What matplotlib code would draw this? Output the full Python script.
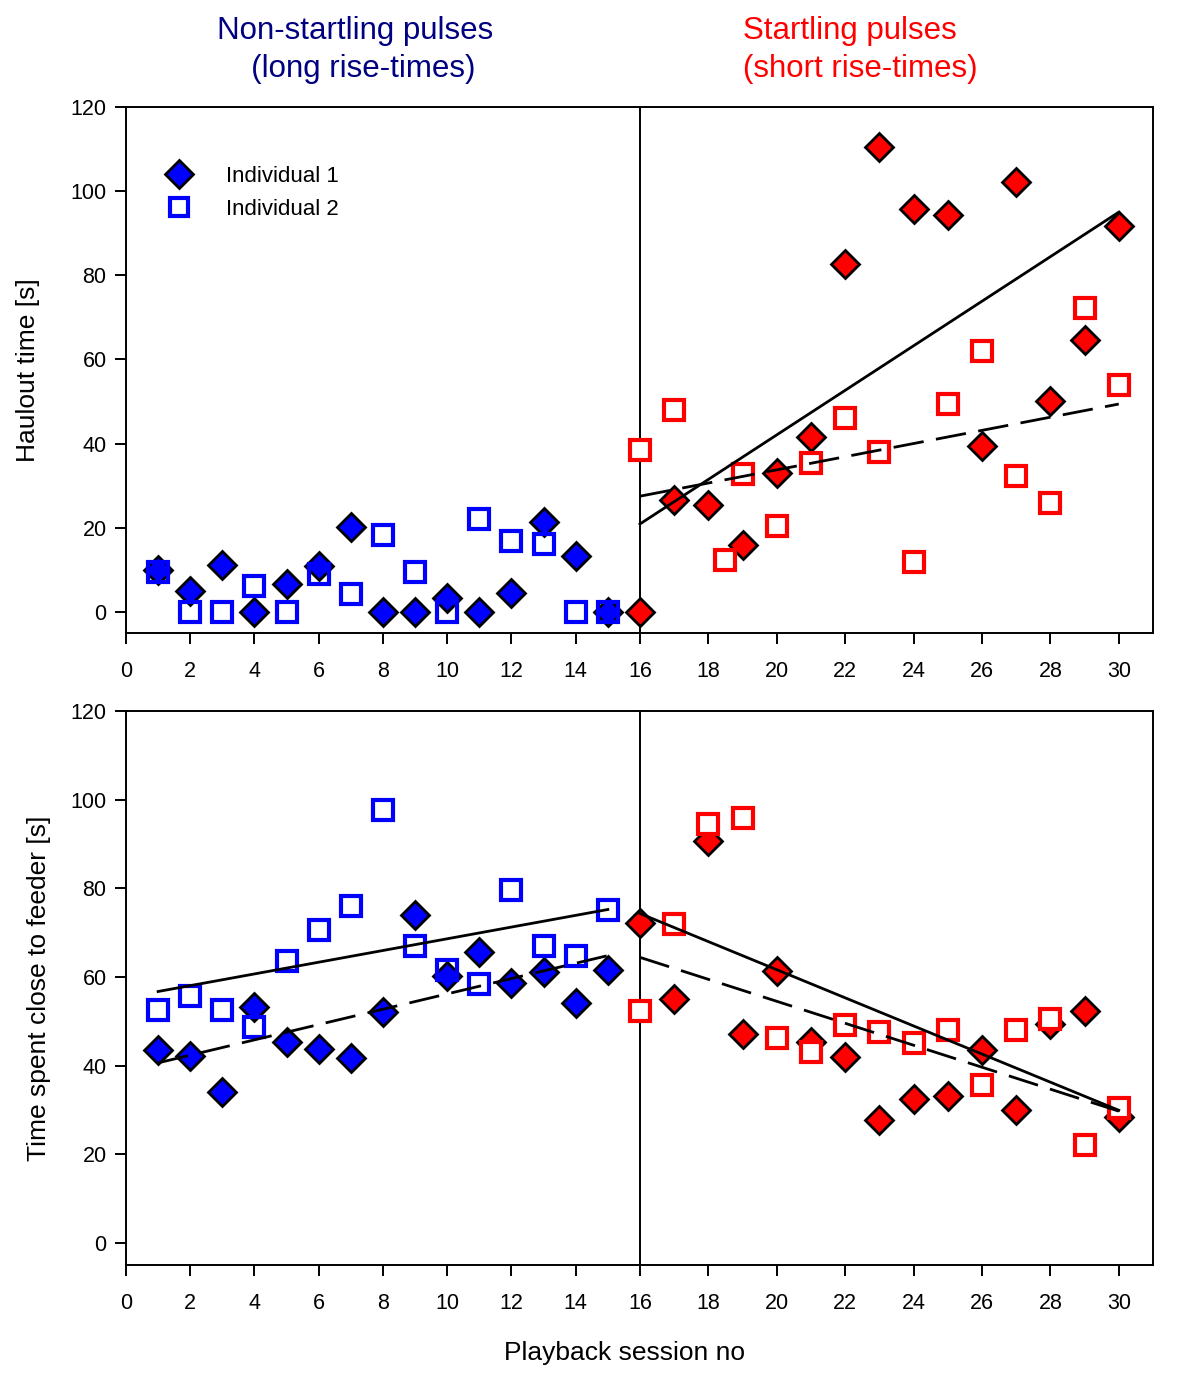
"""
Haulout time and time near feeder across playback sessions
"""
import matplotlib
matplotlib.use('Agg')
import matplotlib.pyplot as plt
from matplotlib.lines import Line2D

plt.rcParams['font.family'] = ['Liberation Sans', 'DejaVu Sans']

# ---- data ----
sessions_a = list(range(1, 16))           # non-startling pulses
sessions_b = list(range(16, 31))          # startling pulses
sessions_b_top2 = [16, 17, 18.5] + list(range(19, 31))

haul_ind1_a = [10, 5, 11.2, 0, 6.7, 10.8, 20.2, 0, 0, 3.3, 0, 4.6, 21.3, 13.2, 0]
haul_ind2_a = [9.5, 0, 0, 6.1, 0, 9.0, 4.2, 18.2, 9.6, 0, 22.0, 16.8, 16.2, 0, 0]
haul_ind1_b = [0, 26.6, 25.4, 15.9, 33.0, 41.5, 82.7, 110.4, 95.7, 94.3, 39.5, 102.2, 50.1, 64.6, 91.8]
haul_ind2_b = [38.4, 48.0, 12.3, 32.7, 20.3, 35.4, 46.1, 38.0, 11.8, 49.4, 62.1, 32.3, 25.9, 72.2, 54.0]

feed_ind1_a = [43.5, 42.2, 34.0, 53.1, 45.2, 43.7, 41.6, 52.1, 74.0, 60.3, 65.6, 58.6, 61.2, 54.1, 61.6]
feed_ind2_a = [52.5, 55.6, 52.5, 48.7, 63.5, 70.5, 76.1, 97.6, 67.0, 61.6, 58.4, 79.6, 67.0, 64.6, 75.0]
feed_ind1_b = [72.2, 54.9, 90.7, 47.1, 61.3, 45.4, 41.9, 27.8, 32.5, 33.1, 43.5, 29.9, 49.3, 52.3, 28.4]
feed_ind2_b = [52.3, 72.0, 94.6, 95.9, 46.1, 43.1, 49.1, 47.5, 45.0, 48.1, 35.7, 48.1, 50.6, 22.1, 30.5]

# regression lines (end points)
fit_x_a = [1, 15]
fit_x_b = [16, 30]
haul_fit_ind1_b = [20.9, 95.0]
haul_fit_ind2_b = [27.5, 49.4]
feed_fit_ind1_a = [40.6, 64.8]
feed_fit_ind2_a = [56.7, 75.2]
feed_fit_ind1_b = [74.3, 29.9]
feed_fit_ind2_b = [64.4, 29.7]

# ---- style ----
BLUE = '#0000FF'
RED = '#FF0000'
NAVY = '#000080'
SPINE_LW = 1.4
TICK_FS = 15.5
dia_kw = dict(marker='D', ms=14, mec='black', mew=2.0, ls='none', zorder=3)
sq_kw = dict(marker='s', ms=14, mew=3.0, ls='none', zorder=4)
solid_kw = dict(color='black', lw=2.0, zorder=5)
dash_kw = dict(color='black', lw=2.0, ls=(0, (11, 4.5)), zorder=5)

fig = plt.figure(figsize=(12, 13.73), dpi=100)

x0, xm, x1 = 0.105, 0.5333, 0.9608
panels = {
    'top': (0.539, 0.3831),
    'bottom': (0.0787, 0.4035),
}


def make_pair(bottom, height):
    axl = fig.add_axes([x0, bottom, xm - x0, height])
    axr = fig.add_axes([xm, bottom, x1 - xm, height])
    axl.set_xlim(0, 16)
    axr.set_xlim(16, 31)
    for a in (axl, axr):
        a.set_ylim(-5, 120)
        for s in a.spines.values():
            s.set_linewidth(SPINE_LW)
        a.tick_params(axis='x', direction='out', length=8, width=SPINE_LW,
                      pad=12, labelsize=TICK_FS)
    axl.spines['right'].set_visible(False)
    axl.set_xticks(range(0, 16, 2))
    axr.set_xticks(range(16, 31, 2))
    axl.set_yticks(range(0, 121, 20))
    axl.tick_params(axis='y', direction='out', length=8, width=SPINE_LW,
                    pad=6, labelsize=TICK_FS)
    axr.tick_params(axis='y', left=False, labelleft=False)
    return axl, axr


# top panel: haulout time
ta, tb = make_pair(*panels['top'])
ta.plot(sessions_a, haul_ind1_a, mfc=BLUE, **dia_kw)
ta.plot(sessions_a, haul_ind2_a, mfc='none', mec=BLUE, **sq_kw)
tb.plot(sessions_b, haul_ind1_b, mfc=RED, **dia_kw)
tb.plot(sessions_b_top2, haul_ind2_b, mfc='white', mec=RED, **sq_kw)
tb.plot(fit_x_b, haul_fit_ind1_b, **solid_kw)
tb.plot(fit_x_b, haul_fit_ind2_b, **dash_kw)
for a in (ta, tb):
    for artist in a.lines:
        artist.set_clip_on(False)
ta.set_ylabel('Haulout time [s]', fontsize=19, labelpad=22)

handles = [
    Line2D([], [], marker='D', ms=14, mfc=BLUE, mec='black', mew=2.0, ls='none'),
    Line2D([], [], marker='s', ms=13, mfc='none', mec=BLUE, mew=3.0, ls='none'),
]
ta.legend(handles, ['Individual 1', 'Individual 2'], loc='upper left',
          bbox_to_anchor=(0.06, 0.905), frameon=False, fontsize=16,
          handletextpad=1.5, labelspacing=0.55, borderaxespad=0,
          handlelength=1.2)

# bottom panel: time near feeder
ba, bb = make_pair(*panels['bottom'])
ba.plot(sessions_a, feed_ind1_a, mfc=BLUE, **dia_kw)
ba.plot(sessions_a, feed_ind2_a, mfc='none', mec=BLUE, **sq_kw)
ba.plot(fit_x_a, feed_fit_ind2_a, **solid_kw)
ba.plot(fit_x_a, feed_fit_ind1_a, **dash_kw)
bb.plot(sessions_b, feed_ind1_b, mfc=RED, **dia_kw)
bb.plot(sessions_b, feed_ind2_b, mfc='white', mec=RED, **sq_kw)
bb.plot(fit_x_b, feed_fit_ind1_b, **solid_kw)
bb.plot(fit_x_b, feed_fit_ind2_b, **dash_kw)
for a in (ba, bb):
    for artist in a.lines:
        artist.set_clip_on(False)
ba.set_ylabel('Time spent close to feeder [s]', fontsize=19, labelpad=14)

# headings and x label
fig.text(355 / 1200, 1 - 50 / 1373, 'Non-startling pulses\n  (long rise-times)',
         ha='center', va='center', fontsize=22.5, color=NAVY, linespacing=1.35)
fig.text(743 / 1200, 1 - 50 / 1373, 'Startling pulses\n(short rise-times)',
         ha='left', va='center', fontsize=22.5, color=RED, linespacing=1.35)
fig.text(625 / 1200, 1 - 1353 / 1373, 'Playback session no',
         ha='center', va='center', fontsize=19)

fig.savefig('out.png', dpi=100, facecolor='white')
